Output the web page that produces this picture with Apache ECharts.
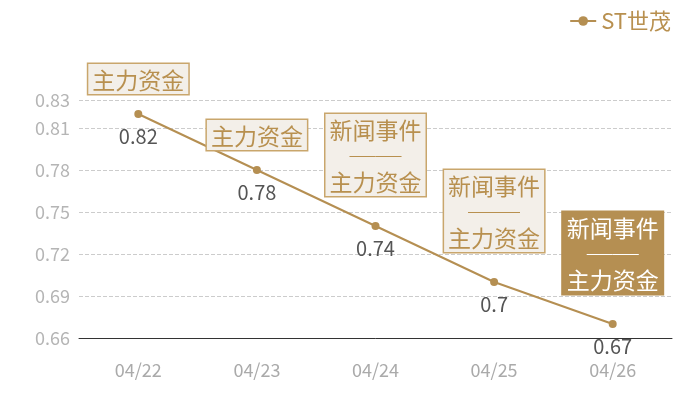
<!DOCTYPE html>
<html>
<head>
<meta charset="utf-8">
<style>
  html, body { margin: 0; padding: 0; background: #fff; }
  #main { width: 700px; height: 400px; }
</style>
<script src="https://cdn.jsdelivr.net/npm/echarts@6/dist/echarts.min.js"></script>
</head>
<body>
<div id="main"></div>
<script>
var dates = ['04/22', '04/23', '04/24', '04/25', '04/26'];
var prices = [0.82, 0.78, 0.74, 0.7, 0.67];
var notes = ['主力资金', '主力资金', '新闻事件\n──\n主力资金', '新闻事件\n──\n主力资金', '新闻事件\n──\n主力资金'];
var seriesName = 'ST世茂';

var gold = '#b58f52';
var font = '"Noto Sans CJK SC", "Noto Sans", sans-serif';

var marks = [];
for (var i = 0; i < dates.length; i++) {
	var multi = notes[i].indexOf('\n') >= 0;
	var last = i == dates.length - 1;
	marks.push({
		coord: [i, prices[i]],
		label: {
			offset: [0, multi ? -71 : -35],
			backgroundColor: last ? gold : '#f3efe9',
			borderColor: last ? gold : '#c9a66c',
			color: last ? '#fff' : '#b8904f'
		}
	});
}

var myChart = echarts.init(document.getElementById('main'));
var option = {
	animation: false,
	textStyle: { fontFamily: font },
	legend: {
		data: [seriesName],
		right: 24,
		top: 5,
		itemWidth: 26,
		itemHeight: 12,
		itemGap: 6,
		textStyle: { color: '#b8904f', fontSize: 22, fontFamily: font }
	},
	grid: {
		left: 79,
		right: 28,
		top: 100,
		bottom: 62
	},
	xAxis: {
		type: 'category',
		data: dates,
		axisLine: { lineStyle: { color: '#333', width: 1 } },
		axisTick: { show: false },
		axisLabel: { color: '#aaa', fontSize: 18, margin: 23 }
	},
	yAxis: {
		type: 'value',
		min: 0.66,
		max: 0.83,
		interval: 0.03,
		axisLine: { show: false },
		axisTick: { show: false },
		axisLabel: { color: '#b5b5b5', fontSize: 18, margin: 9 },
		splitLine: { lineStyle: { color: '#ccc', type: 'dashed' } }
	},
	series: [{
		name: seriesName,
		type: 'line',
		data: prices,
		symbol: 'circle',
		symbolSize: 8,
		itemStyle: { color: gold },
		lineStyle: { color: gold, width: 2 },
		label: {
			show: true,
			position: 'bottom',
			distance: 8,
			color: '#555',
			fontSize: 20
		},
		markPoint: {
			symbol: 'rect',
			symbolSize: [1, 1],
			itemStyle: { color: 'rgba(0,0,0,0)' },
			label: {
				show: true,
				position: 'inside',
				formatter: function (p) {
					// 分隔线放大加粗
					return notes[p.dataIndex].replace('──', '{s|──}');
				},
				fontSize: 23,
				lineHeight: 26,
				borderWidth: 1.5,
				padding: [3, 4, 1, 4],
				fontFamily: font,
				rich: {
					s: { fontSize: 26, lineHeight: 26, fontWeight: 'bold', fontFamily: font }
				}
			},
			data: marks
		}
	}]
};
myChart.setOption(option);
</script>
</body>
</html>
